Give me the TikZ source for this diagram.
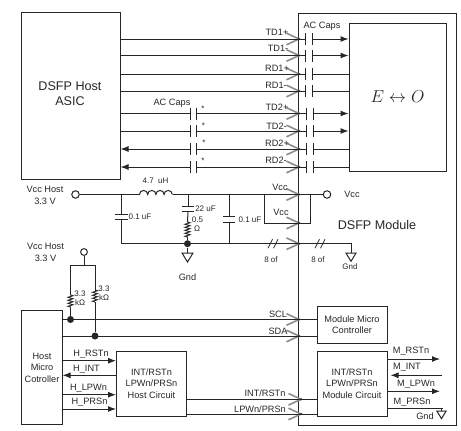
\documentclass[tikz,border=0pt]{standalone}
\usepackage{fontspec}
\setmainfont{Liberation Sans}
\usetikzlibrary{arrows.meta,decorations.pathmorphing}

\tikzset{
  box/.style={draw,inner sep=0pt,align=center},
  lab/.style={inner sep=0pt,align=center,font=\fontsize{9.2}{11.5}\selectfont},
  small/.style={inner sep=0pt,align=center,font=\fontsize{8}{10}\selectfont},
  big/.style={inner sep=0pt,align=center,font=\fontsize{12.6}{15}\selectfont},
  sig/.style={-{Latex[length=8pt,width=6pt]}},
  sigback/.style={{Latex[length=8pt,width=6pt]}-},
  res/.style={decorate,decoration={zigzag,amplitude=2.6pt,segment length=3pt},line width=.9pt},
  dot/.style={circle,fill,inner sep=0pt,minimum size=7pt},
  term/.style={circle,draw,inner sep=0pt,minimum size=7.5pt},
  hcap/.style={inner sep=0pt,minimum width=5.5pt,minimum height=11pt,
    append after command={(\tikzlastnode.north west) edge (\tikzlastnode.south west)
      (\tikzlastnode.north east) edge (\tikzlastnode.south east)}},
  vcap/.style={inner sep=0pt,minimum width=11.5pt,minimum height=4.5pt,
    append after command={(\tikzlastnode.north west) edge (\tikzlastnode.north east)
      (\tikzlastnode.south west) edge (\tikzlastnode.south east)}},
  pics/chev/.style={code={
    \draw[black!45,line width=1.6pt] (-12.5pt,5.8pt) -- (0,0) -- (-12.5pt,-5.8pt);
    \fill (0,0) circle (1.2pt);}},
  pics/gnd/.style={code={
    \draw (-5.5pt,0) -- (5.5pt,0) -- (0,-9pt) -- cycle;}},
  pics/slashes/.style={code={
    \draw[line width=.8pt] (-5pt,-4.5pt) -- (-.5pt,4.5pt);
    \draw[line width=.8pt] (.5pt,-4.5pt) -- (5pt,4.5pt);}}
}

\begin{document}
\begin{tikzpicture}[x=1pt,y=-1pt,line width=1pt,color=black!85]
\useasboundingbox (0,0) rectangle (461,431);

% boxes
\node[box,minimum width=99pt,minimum height=167pt] (asic) at (70.5,95.5) {};
\node[big] (asictext) at (70,93.5) {DSFP Host\\ASIC};
\node[box,minimum width=158pt,minimum height=412pt] (module) at (377,219) {};
\node[big] (moduletext) at (377,225) {DSFP Module};
\node[box,minimum width=97pt,minimum height=148pt,font=\fontsize{17}{20}\selectfont] (eo) at (397.5,97) {$E\leftrightarrow O$};
\node[box,lab,minimum width=41pt,minimum height=114pt] (hmc) at (42,367.5) {Host\\Micro\\Cotroller};
\node[box,lab,minimum width=70pt,minimum height=65pt] (hcirc) at (151.5,383.5) {INT/RSTn\\LPWn/PRSn\\Host Circuit};
\node[box,lab,minimum width=70pt,minimum height=37pt] (mmc) at (352,324.5) {Module Micro\\Controller};
\node[box,lab,minimum width=70pt,minimum height=65pt] (mcirc) at (352,383.5) {INT/RSTn\\LPWn/PRSn\\Module Circuit};

% chevrons under the lines
\pic at (299,39) {chev};
\pic at (299,55.5) {chev};
\pic at (299,74) {chev};
\pic at (299,91) {chev};
\pic at (299,113.5) {chev};
\pic at (299,131) {chev};
\pic at (299,149) {chev};
\pic at (299,167) {chev};
\pic at (299,194.5) {chev};
\pic at (299,223) {chev};
\pic at (299,243.7) {chev};
\pic at (299,319.5) {chev};
\pic at (299,336) {chev};
\pic at (301,399.3) {chev};
\pic at (301,414) {chev};

% module caps
\node[hcap] (mtd1p) at (309,39) {};
\node[hcap] (mtd1n) at (309,55.5) {};
\node[hcap] (mrd1p) at (309,74) {};
\node[hcap] (mrd1n) at (309,91) {};
\node[hcap] (mtd2p) at (310,113.5) {};
\node[hcap] (mtd2n) at (310,131) {};
\node[hcap] (mrd2p) at (310,149) {};
\node[hcap] (mrd2n) at (310,167) {};

% host caps
\node[hcap] (htd2p) at (193.5,113.5) {};
\node[hcap] (htd2n) at (193.5,131) {};
\node[hcap] (hrd2p) at (193.5,149) {};
\node[hcap] (hrd2n) at (193.5,167) {};

\draw (asic.east |- mtd1p) -- (mtd1p.west);
\draw (asic.east |- mtd1n) -- (mtd1n.west);
\draw (asic.east |- mrd1p) -- (mrd1p.west);
\draw (asic.east |- mrd1n) -- (mrd1n.west);
\draw[sig] (mtd1p.east) -- (eo.west |- mtd1p);
\draw[sig] (mtd1n.east) -- (eo.west |- mtd1n);
\draw (mrd1p.east) -- (eo.west |- mrd1p);
\draw (mrd1n.east) -- (eo.west |- mrd1n);

\draw (asic.east |- htd2p) -- (htd2p.west);
\draw (asic.east |- htd2n) -- (htd2n.west);
\draw[sigback] (asic.east |- hrd2p) -- (hrd2p.west);
\draw[sigback] (asic.east |- hrd2n) -- (hrd2n.west);
\draw (htd2p.east) -- (mtd2p.west);
\draw (htd2n.east) -- (mtd2n.west);
\draw (hrd2p.east) -- (mrd2p.west);
\draw (hrd2n.east) -- (mrd2n.west);
\draw[sig] (mtd2p.east) -- (eo.west |- mtd2p);
\draw[sig] (mtd2n.east) -- (eo.west |- mtd2n);
\draw (mrd2p.east) -- (eo.west |- mrd2p);
\draw (mrd2n.east) -- (eo.west |- mrd2n);

\node[lab] (ltd1p) at (277,32) {TD1+};
\node[lab] (ltd1n) at (278,48.5) {TD1-};
\node[lab] (lrd1p) at (277,68) {RD1+};
\node[lab] (lrd1n) at (276,85) {RD1-};
\node[lab] (ltd2p) at (277,107.5) {TD2+};
\node[lab] (ltd2n) at (276.5,126) {TD2-};
\node[lab] (lrd2p) at (277,143) {RD2+};
\node[lab] (lrd2n) at (276,160.5) {RD2-};
\node[lab] (lach) at (172,103) {AC Caps};
\node[lab] (lacm) at (322,26) {AC Caps};
\node[small] (star1) at (203,109) {*};
\node[small] (star2) at (203.5,126) {*};
\node[small] (star3) at (204,143) {*};
\node[small] (star4) at (203,161) {*};

% Vcc filter
\node[term] (vhost) at (75.5,194.5) {};
\node[lab] (lvhost) at (45,195.5) {Vcc Host\\3.3 V};
\node[term] (vcc) at (327,194.5) {};
\node[lab] (lvcc) at (352,194) {Vcc};
\coordinate (la) at (139.5,194.5);
\coordinate (lb) at (172.5,194.5);
\coordinate (gline) at (187.5,243.7);
\draw (vhost) -- (la);
\draw (la) arc[start angle=180,end angle=0,radius=4.1pt]
  arc[start angle=180,end angle=0,radius=4.1pt]
  arc[start angle=180,end angle=0,radius=4.1pt]
  arc[start angle=180,end angle=0,radius=4.1pt];
\draw (lb) -- (vcc);
\node[small] (lind) at (155.5,181) {4.7~~uH};

\node[vcap] (c1) at (121.5,217) {};
\draw (c1.north |- la) -- (c1.north);
\draw (c1.south) -- (c1.south |- gline);
\node[small] (lc1) at (140,216.5) {0.1 uF};

\node[vcap] (c2) at (188,209) {};
\coordinate (ra) at (187.5,222);
\coordinate (rb) at (187.5,238);
\draw (c2.north |- la) -- (c2.north);
\draw (c2.south) -- (ra);
\draw[res] (ra) -- (rb);
\node[dot] (ndot) at (gline) {};
\draw (rb) -- (ndot);
\node[small] (lc2) at (205.5,208.5) {22 uF};
\node[small] (lr1) at (197.5,219.5) {0.5};
\node[small] (lr2) at (197,229) {Ω};

\node[vcap] (c3) at (229,219.7) {};
\draw (c3.north |- la) -- (c3.north);
\draw (c3.south) -- (c3.south |- gline);
\node[small] (lc3) at (250,219.5) {0.1 uF};

\coordinate (gh) at (187.5,253);
\draw (ndot) -- (gh);
\pic at (gh) {gnd};
\node[lab] (lgh) at (187.5,277) {Gnd};

\coordinate (vba) at (264,194.5);
\coordinate (vbb) at (310.3,194.5);
\draw (vba) -- ++(0,28.5) -| (vbb);
\node[lab] (lv1) at (280,187) {Vcc};
\node[lab] (lv2) at (281,212.5) {Vcc};

\coordinate (gm) at (351,243.7);
\coordinate (gmb) at (351,253);
\draw (c1.south |- gline) -- (gm) -- (gmb);
\pic[scale=.92] at (gmb) {gnd};
\pic at (273,243.7) {slashes};
\pic at (320,243.7) {slashes};
\node[small] (l8a) at (271,260) {8 of};
\node[small] (l8b) at (318,260) {8 of};
\node[small] (lgm) at (350,267) {Gnd};

% pull ups
\node[term,minimum size=6.8pt] (vpull) at (84,252) {};
\node[lab] (lvpull) at (45.5,252.5) {Vcc Host\\3.3 V};
\coordinate (pc) at (84,265.5);
\coordinate (pl) at (70.5,265.5);
\coordinate (pr) at (95,265.5);
\coordinate (r1a) at (70.5,295);
\coordinate (r1b) at (70.5,307);
\coordinate (r2a) at (95,290);
\coordinate (r2b) at (95,302);
\node[dot] (scl) at (70.5,319.5) {};
\node[dot] (sda) at (95,336) {};
\draw (vpull) -- (pc);
\draw (r1a) -- (pl) -- (pr) -- (r2a);
\draw[res] (r1a) -- (r1b);
\draw[res] (r2a) -- (r2b);
\draw (r1b) -- (scl);
\draw (r2b) -- (sda);
\node[small] (lr3) at (80,293.5) {3.3};
\node[small] (lr4) at (80,303) {kΩ};
\node[small] (lr5) at (104,288.5) {3.3};
\node[small] (lr6) at (104,298) {kΩ};

% SCL SDA
\draw (hmc.east |- scl) -- (mmc.west |- scl);
\draw (hmc.east |- sda) -- (mmc.west |- sda);
\node[lab] (lscl) at (278,314) {SCL};
\node[lab] (lsda) at (278,331) {SDA};

% host side signals
\coordinate (hr) at (62.5,360.7);
\coordinate (hi) at (62.5,375.3);
\coordinate (hp) at (62.5,394.7);
\coordinate (hs) at (62.5,409);
\draw[sig] (hr) -- (hcirc.west |- hr);
\draw[sigback] (hi) -- (hcirc.west |- hi);
\draw[sig] (hp) -- (hcirc.west |- hp);
\draw[sig] (hs) -- (hcirc.west |- hs);
\node[lab] (lhr) at (91,354.5) {H\_RSTn};
\node[lab] (lhi) at (86.5,369) {H\_INT};
\node[lab] (lhp) at (88.5,388.5) {H\_LPWn};
\node[lab] (lhs) at (89.5,402.5) {H\_PRSn};

\coordinate (ia) at (186.5,399.3);
\coordinate (lp) at (186.5,414);
\draw (ia) -- (mcirc.west |- ia);
\draw (lp) -- (mcirc.west |- lp);
\node[lab] (lia) at (265,393.5) {INT/RSTn};
\node[lab] (llp) at (260,409) {LPWn/PRSn};

% module side signals
\coordinate (mr) at (440,359);
\coordinate (mi) at (442,375.3);
\coordinate (mitip) at (390.5,375.3);
\coordinate (mp) at (440,391.3);
\coordinate (ms) at (443,408.7);
\coordinate (gs) at (441.5,411);
\draw[sig] (mcirc.east |- mr) -- (mr);
\draw[sig] (mi) -- (mitip);
\draw[sig] (mcirc.east |- mp) -- (mp);
\draw (mcirc.east |- ms) -- (ms);
\draw (gs |- ms) -- (gs);
\pic[scale=.85] at (gs) {gnd};
\node[lab] (lmr) at (411,351) {M\_RSTn};
\node[lab] (lmi) at (407,367) {M\_INT};
\node[lab] (lmp) at (416,384) {M\_LPWn};
\node[lab] (lms) at (412,402) {M\_PRSn};
\node[lab] (lgs) at (425,416) {Gnd};

\end{tikzpicture}
\end{document}
